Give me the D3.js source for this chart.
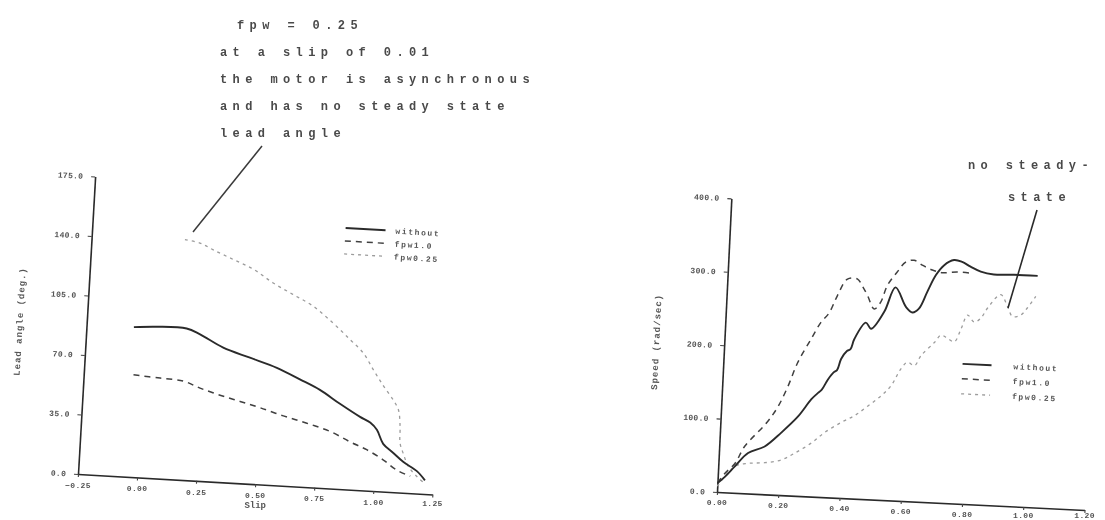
<!DOCTYPE html>
<html>
<head>
<meta charset="utf-8">
<script src="https://cdn.jsdelivr.net/npm/d3@7/dist/d3.min.js"></script>
<style>
  body { margin: 0; background: #fff; }
  text { font-family: "Liberation Mono", "DejaVu Sans Mono", monospace; }
</style>
</head>
<body>
<div id="chart"></div>
<script>
// ---- data ----
const seriesNames = ["without", "fpw1.0", "fpw0.25"];

// lead angle (deg) vs slip
const leadWithout = [[-0.05,88],[0.046,89],[0.173,89],[0.231,86],[0.332,79],[0.447,74],[0.563,69],[0.663,63],
  [0.75,57.5],[0.838,50],[0.926,43],[0.97,40],[1.0,36],[1.03,28],[1.075,23],[1.12,18],[1.18,13],[1.215,8]];
const leadFpw10 = [[-0.04,60],[0.073,59],[0.172,58],[0.244,54.5],[0.33,51],[0.416,48],[0.502,45],[0.602,41],
  [0.703,37.5],[0.803,33.5],[0.89,28],[0.962,24],[1.035,18.5],[1.094,13],[1.152,10]];
const leadFpw025 = [[0.144,141],[0.208,139.5],[0.266,136],[0.353,131],[0.44,126],[0.527,118.6],[0.615,112.4],
  [0.702,106.3],[0.79,97],[0.865,88],[0.924,80.6],[0.971,71],[1.017,62],[1.062,54],[1.086,48.5],[1.097,39],
  [1.101,29],[1.117,23],[1.142,15.6],[1.18,10],[1.216,6]];

// speed (rad/sec) vs time
const speedWithout = [[0,12],[0.023,21],[0.054,36],[0.095,55],[0.148,65],[0.2,85],[0.252,108],[0.292,132],
  [0.31,140],[0.325,146],[0.343,160],[0.36,170],[0.372,174],[0.383,189],[0.4,200],[0.412,203],[0.423,217],
  [0.458,240],[0.476,232],[0.516,256],[0.549,290],[0.586,264],[0.608,257],[0.629,263],[0.653,286],[0.678,309],
  [0.703,323],[0.735,331],[0.762,329],[0.79,323],[0.824,317],[0.867,314],[0.933,315],[1.01,315]];
const speedFpw10 = [[0,12],[0.023,26],[0.054,40],[0.083,64],[0.15,97],[0.185,120],[0.214,148],[0.242,181],
  [0.282,214],[0.311,237],[0.337,251],[0.361,275],[0.391,298],[0.423,299],[0.44,290],[0.459,277],[0.483,259],
  [0.503,269],[0.522,292],[0.552,311],[0.578,325],[0.605,328],[0.632,322],[0.666,316],[0.7,313],[0.748,315],[0.8,314]];
const speedFpw025 = [[0,8],[0.054,36],[0.097,41],[0.151,43],[0.205,48],[0.247,58],[0.3,73],[0.341,88],[0.394,103],
  [0.436,113],[0.478,127],[0.52,142],[0.55,156],[0.58,180],[0.6,189],[0.623,185],[0.643,199],[0.685,218],[0.705,228],
  [0.727,224],[0.749,220],[0.769,238],[0.788,257],[0.811,248],[0.832,254],[0.852,268],[0.893,287],[0.917,271],
  [0.935,258],[0.962,261],[0.982,271],[1.007,287]];

const leadXTicks = [-0.25, 0, 0.25, 0.5, 0.75, 1.0, 1.25];
const leadYTicks = [0, 35, 70, 105, 140, 175];
const speedXTicks = [0, 0.2, 0.4, 0.6, 0.8, 1.0, 1.2];
const speedYTicks = [0, 100, 200, 300, 400];

const noteLeft = ["fpw = 0.25", "at a slip of 0.01", "the motor is asynchronous", "and has no steady state", "lead angle"];
const noteRight = ["no steady-", "state"];

// ---- styles ----
const lineStyle = {
  "without": {color: "#2b2b2b", width: 1.9, dash: null},
  "fpw1.0":  {color: "#404040", width: 1.5, dash: "6,5"},
  "fpw0.25": {color: "#9c9c9c", width: 1.3, dash: "3,4"}
};

const W = 1105, H = 520;
const svg = d3.select("#chart").append("svg")
  .attr("width", W).attr("height", H);

// scanned look
svg.append("defs").append("filter").attr("id", "scan")
  .append("feGaussianBlur").attr("stdDeviation", 0.65);

const root = svg.append("g").attr("filter", "url(#scan)");
root.append("rect").attr("width", W).attr("height", H).attr("fill", "#fff");

const labelStyle = sel => sel
  .style("font-size", "8px").style("font-weight", "bold")
  .attr("fill", "#555").attr("letter-spacing", "0.3px");

function drawPanel(cfg) {
  const rad = cfg.rot * Math.PI / 180;
  const g = root.append("g")
    .attr("transform", "translate(" + cfg.ox + "," + cfg.oy + ") rotate(" + cfg.rot + ")");

  const x = d3.scaleLinear().domain(cfg.xDomain).range([0, cfg.w]);
  const y = d3.scaleLinear().domain(cfg.yDomain).range([0, -cfg.h]);

  const xAxis = g.append("g")
    .call(d3.axisBottom(x).tickValues(cfg.xTicks).tickFormat("").tickSize(3).tickSizeOuter(0));
  const yAxis = g.append("g")
    .call(d3.axisLeft(y).tickValues(cfg.yTicks).tickFormat(d3.format(".1f")).tickSize(4).tickSizeOuter(0));

  [xAxis, yAxis].forEach(a => {
    a.attr("font-family", null).attr("font-size", null);
    a.select(".domain").attr("stroke", "#2a2a2a").attr("stroke-width", 1.6);
    a.selectAll(".tick line").attr("stroke", "#444").attr("stroke-width", 1.1);
  });
  yAxis.selectAll(".tick text").call(labelStyle).attr("dx", "-0.6em");

  // x tick labels stay level on the scan: follow the tilted axis, but not past the page foot
  const labelY = d => Math.min(cfg.oy + x(d) * Math.sin(rad) + cfg.labelGap, cfg.labelMax);
  root.selectAll(null)
    .data(cfg.xTicks).enter().append("text")
    .attr("x", d => cfg.ox + x(d) * Math.cos(rad))
    .attr("y", labelY)
    .attr("dy", "0.35em")
    .attr("text-anchor", "middle")
    .call(labelStyle)
    .text(d3.format(".2f"));

  // axis titles
  g.append("text")
    .attr("transform", "translate(" + cfg.yTitleX + "," + (-cfg.h / 2) + ") rotate(-90)")
    .attr("text-anchor", "middle")
    .style("font-size", "9px").style("font-weight", "bold")
    .attr("fill", "#555").attr("letter-spacing", "1px")
    .text(cfg.yTitle);
  if (cfg.xTitle) {
    root.append("text")
      .attr("x", cfg.ox + x(cfg.xTitlePos) * Math.cos(rad))
      .attr("y", labelY(cfg.xTitlePos) + 10)
      .attr("dy", "0.35em")
      .attr("text-anchor", "middle")
      .style("font-size", "9px").style("font-weight", "bold")
      .attr("fill", "#555")
      .text(cfg.xTitle);
  }

  const line = d3.line()
    .curve(d3.curveCatmullRom.alpha(0.5))
    .x(d => x(d[0]))
    .y(d => y(d[1]));

  // light ones first so the solid stays on top
  const order = ["fpw0.25", "fpw1.0", "without"];
  order.forEach(name => {
    const s = lineStyle[name];
    g.append("path")
      .datum(cfg.series[name])
      .attr("d", line)
      .attr("fill", "none")
      .attr("stroke", s.color)
      .attr("stroke-width", s.width)
      .attr("stroke-dasharray", s.dash);
  });

  // legend
  const lg = g.append("g").attr("transform", "translate(" + cfg.legX + "," + cfg.legY + ")");
  seriesNames.forEach((name, i) => {
    const s = lineStyle[name];
    lg.append("line")
      .attr("x1", 0).attr("x2", cfg.legLen)
      .attr("y1", i * cfg.legStep).attr("y2", i * cfg.legStep)
      .attr("stroke", s.color).attr("stroke-width", s.width)
      .attr("stroke-dasharray", s.dash);
    lg.append("text")
      .attr("x", cfg.legLen + cfg.legGap).attr("y", i * cfg.legStep)
      .attr("dy", "0.35em")
      .style("font-size", "8px").style("font-weight", "bold")
      .attr("fill", "#555").attr("letter-spacing", "1.6px")
      .text(name);
  });
}

drawPanel({
  ox: 78, oy: 474, rot: 3.3, w: 355, h: 298,
  xDomain: [-0.25, 1.25], yDomain: [0, 175],
  xTicks: leadXTicks, yTicks: leadYTicks, labelGap: 11, labelMax: 503,
  yTitle: "Lead angle (deg.)", yTitleX: -64,
  xTitle: "Slip", xTitlePos: 0.5,
  series: {"without": leadWithout, "fpw1.0": leadFpw10, "fpw0.25": leadFpw025},
  legX: 253, legY: -261, legLen: 40, legGap: 10, legStep: 13
});

drawPanel({
  ox: 717, oy: 492, rot: 2.8, w: 368, h: 294,
  xDomain: [0, 1.2], yDomain: [0, 400],
  xTicks: speedXTicks, yTicks: speedYTicks, labelGap: 10, labelMax: 515,
  yTitle: "Speed (rad/sec)", yTitleX: -65,
  xTitle: null,
  series: {"without": speedWithout, "fpw1.0": speedFpw10, "fpw0.25": speedFpw025},
  legX: 239, legY: -140, legLen: 29, legGap: 22, legStep: 15
});

// typed notes
const noteStyle = sel => sel
  .style("font-size", "12px").style("font-weight", "bold")
  .attr("fill", "#4a4a4a").attr("letter-spacing", "5.4px");

root.selectAll(".note-left").data(noteLeft).enter().append("text")
  .attr("class", "note-left")
  .attr("x", (d, i) => i === 0 ? 237 : 220)
  .attr("y", (d, i) => 29 + i * 27)
  .call(noteStyle)
  .text(d => d);

root.selectAll(".note-right").data(noteRight).enter().append("text")
  .attr("class", "note-right")
  .attr("x", (d, i) => i === 0 ? 968 : 1008)
  .attr("y", (d, i) => 169 + i * 32)
  .call(noteStyle)
  .text(d => d);

// pointer lines
root.append("line")
  .attr("x1", 262).attr("y1", 146).attr("x2", 193).attr("y2", 232)
  .attr("stroke", "#3a3a3a").attr("stroke-width", 1.5);
root.append("line")
  .attr("x1", 1037).attr("y1", 210).attr("x2", 1008).attr("y2", 308)
  .attr("stroke", "#2a2a2a").attr("stroke-width", 1.6);
</script>
</body>
</html>
